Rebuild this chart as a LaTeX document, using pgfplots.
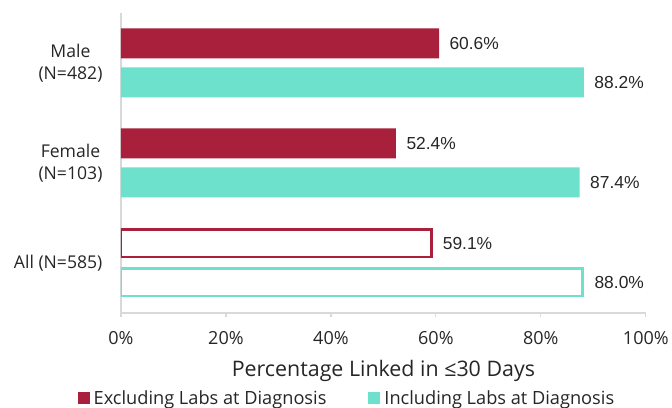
\documentclass[border=0pt]{standalone}
\usepackage{pgfplots}
\pgfplotsset{compat=1.18}
\usepackage{fontspec}
\setmainfont{Open Sans}
\newfontfamily\arial{Liberation Sans}
\usetikzlibrary{calc}
\definecolor{exred}{HTML}{A8203C}
\definecolor{inteal}{HTML}{6DE1CB}
\definecolor{axgray}{HTML}{D9D9D9}
\definecolor{txt}{HTML}{262626}

\begin{document}
\begin{tikzpicture}
\begin{axis}[
  name=ax,
  scale only axis, width=525pt, height=300pt,
  xbar, bar width=30pt,
  xmin=0, xmax=100, ymin=-0.5, ymax=2.5,
  axis x line*=bottom, axis y line*=left,
  axis line style={axgray, line width=1.2pt, -},
  xtick={0,20,40,60,80,100},
  xticklabels={0\%,20\%,40\%,60\%,80\%,100\%},
  xtick style={axgray, line width=1.2pt},
  tick align=outside, major tick length=4pt,
  xticklabel style={font=\fontsize{18}{20}\selectfont, text=txt, yshift=-11pt},
  ytick={0,1,2},
  yticklabels={All (N=585), Female\\(N=103), Male\\(N=482)},
  ytick style={draw=none},
  yticklabel style={align=center, font=\fontsize{17.6}{22}\selectfont, text=txt, xshift=-11pt},
  xlabel={Percentage Linked in ≤30 Days},
  xlabel style={at={(axis description cs:0.5,-0.195)}, anchor=center,
    font=\fontsize{21.4}{24}\selectfont, text=txt},
  /pgf/number format/assume math mode=true,
  nodes near coords={\pgfmathprintnumber[fixed,fixed zerofill,precision=1]{\pgfplotspointmeta}\%},
  nodes near coords style={font=\arial\fontsize{17.4}{20}\selectfont, text=txt, anchor=west, xshift=7pt},
  legend columns=2,
  legend style={at={(0.4305,-0.2833)}, anchor=center, draw=none, inner sep=0pt,
    font=\fontsize{18.2}{20}\selectfont, text=txt,
    /tikz/every even column/.append style={column sep=40pt}},
  legend image code/.code={\fill[#1] (0pt,-6pt) rectangle (12pt,6pt);},
  legend style={/tikz/every odd column/.append style={column sep=2pt}},
]
\addplot[fill=exred, draw=none, bar shift=19.5pt] coordinates {(60.6,2) (52.4,1)};
\addlegendentry{Excluding Labs at Diagnosis}
\addplot[fill=inteal, draw=none, bar shift=-19.5pt] coordinates {(88.2,2) (87.4,1)};
\addlegendentry{Including Labs at Diagnosis}
\addplot[forget plot, fill=white, draw=exred, line width=2.8pt, bar shift=19.5pt, bar width=27.2pt] coordinates {(59.1,0)};
\addplot[forget plot, fill=white, draw=inteal, line width=2.8pt, bar shift=-19.5pt, bar width=27.2pt] coordinates {(88.0,0)};
\end{axis}
\path ($(ax.south west)+(-121pt,-95pt)$) rectangle ($(ax.north east)+(26pt,13pt)$);
\end{tikzpicture}
\end{document}
